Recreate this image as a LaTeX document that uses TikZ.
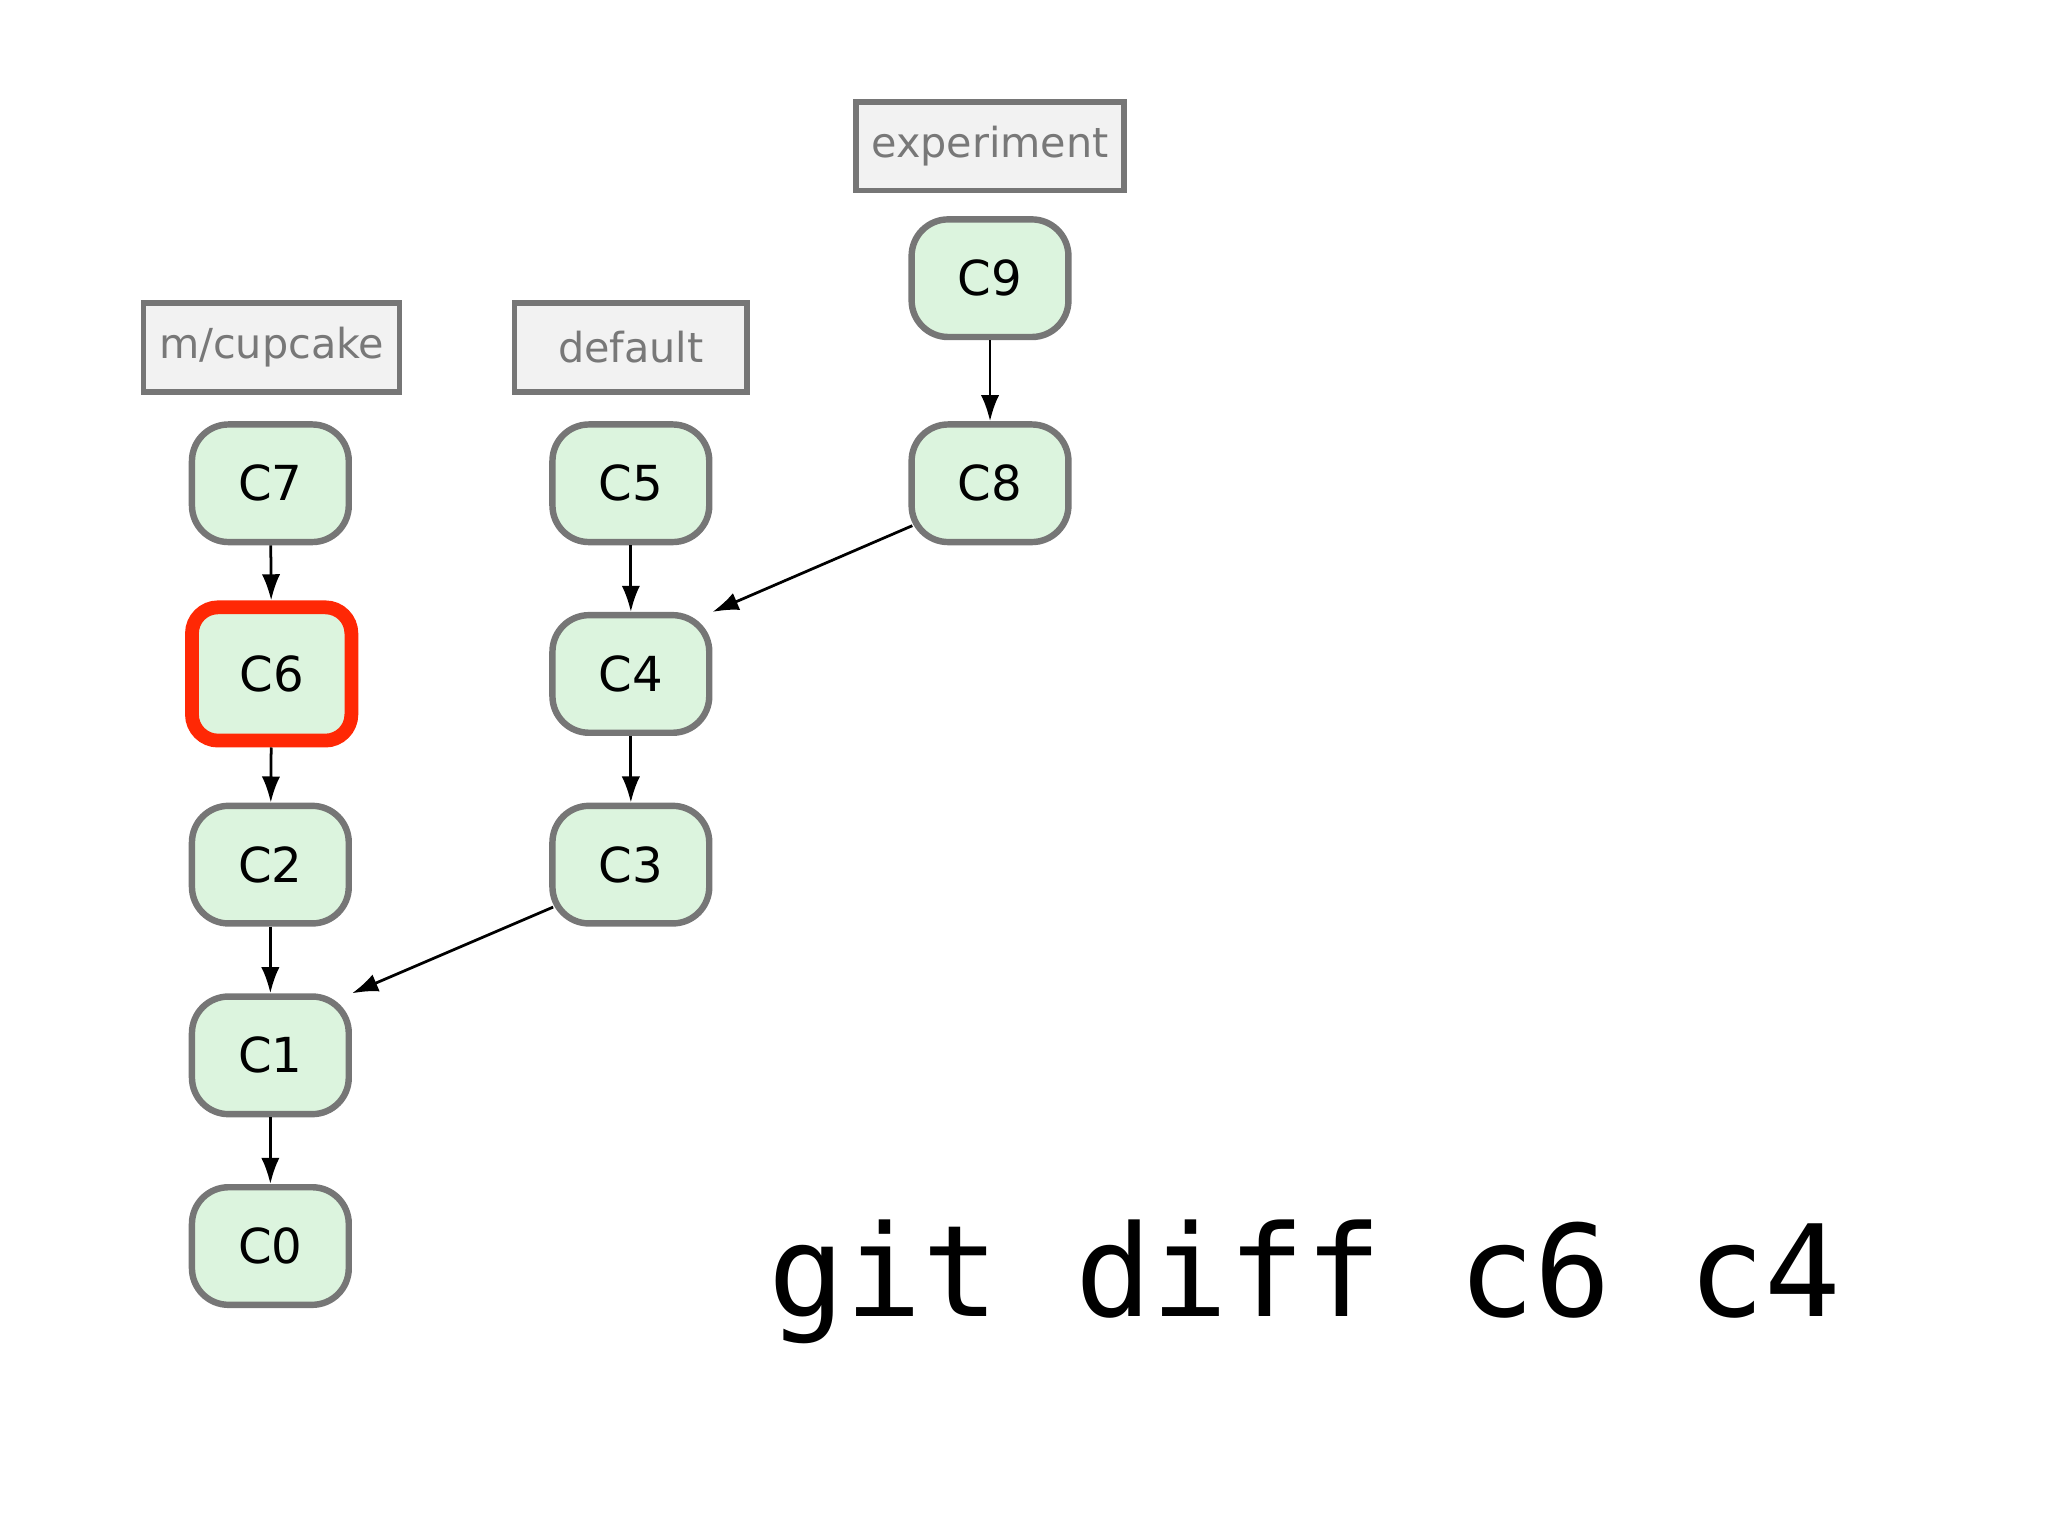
\documentclass[tikz,border=0pt]{standalone}
\usepackage{fontspec}
\setmainfont{DejaVu Sans}
\newfontfamily\monof{DejaVu Sans Mono}
\usetikzlibrary{arrows.meta}
\definecolor{cfill}{RGB}{220,244,222}
\definecolor{cborder}{RGB}{118,118,118}
\definecolor{lfill}{RGB}{242,242,242}
\definecolor{ltext}{RGB}{120,120,120}
\definecolor{hred}{RGB}{255,40,5}
\tikzset{
 commit/.style={draw=cborder,fill=cfill,line width=1.4pt,minimum width=1.2cm,minimum height=0.9cm,rounded corners=0.28cm,font=\fontsize{10.5}{12}\selectfont},
 hl/.style={commit,draw=hred,line width=3pt,minimum width=1.22cm,minimum height=1.02cm,rounded corners=0.2cm},
 lbl/.style={draw=cborder,fill=lfill,line width=1.2pt,minimum width=1.78cm,minimum height=0.68cm,text=ltext,font=\fontsize{9}{11}\selectfont},
 edge/.style={-{Latex[length=0.2cm,width=0.14cm]},line width=0.6pt}
}
\begin{document}
\begin{tikzpicture}[x=0.01cm,y=-0.01cm]
\useasboundingbox (0,0) rectangle (1568,1176);
\node[lbl] (lcup) at (208,266) {m/cupcake};
\node[lbl] (ldef) at (483,266) {default};
\node[lbl] (lexp) at (758,112) {experiment};
\node[commit] (c9) at (758,213) {C9};
\node[commit] (c7) at (207,370) {C7};
\node[commit] (c5) at (483,370) {C5};
\node[commit] (c8) at (758,370) {C8};
\node[hl] (c6) at (208,516) {C6};
\node[commit] (c4) at (483,516) {C4};
\node[commit] (c2) at (207,662) {C2};
\node[commit] (c3) at (483,662) {C3};
\node[commit] (c1) at (207,808) {C1};
\node[commit] (c0) at (207,954) {C0};
\draw[edge] (c9) -- (c8);
\draw[edge] (c7) -- (c6);
\draw[edge] (c6) -- (c2);
\draw[edge] (c2) -- (c1);
\draw[edge] (c1) -- (c0);
\draw[edge] (c5) -- (c4);
\draw[edge] (c4) -- (c3);
\draw[edge] (c8.south west) ++(3,-15) coordinate (a1) (a1) -- (c4.north east) ;
\draw[edge] (c3.south west) ++(3,-15) coordinate (a2) (a2) -- (c1.north east);
\node[anchor=base west,inner sep=0,font=\monof\fontsize{27.7}{30}\selectfont] (cmd) at (588,1008) {git diff c6 c4};
\end{tikzpicture}
\end{document}
